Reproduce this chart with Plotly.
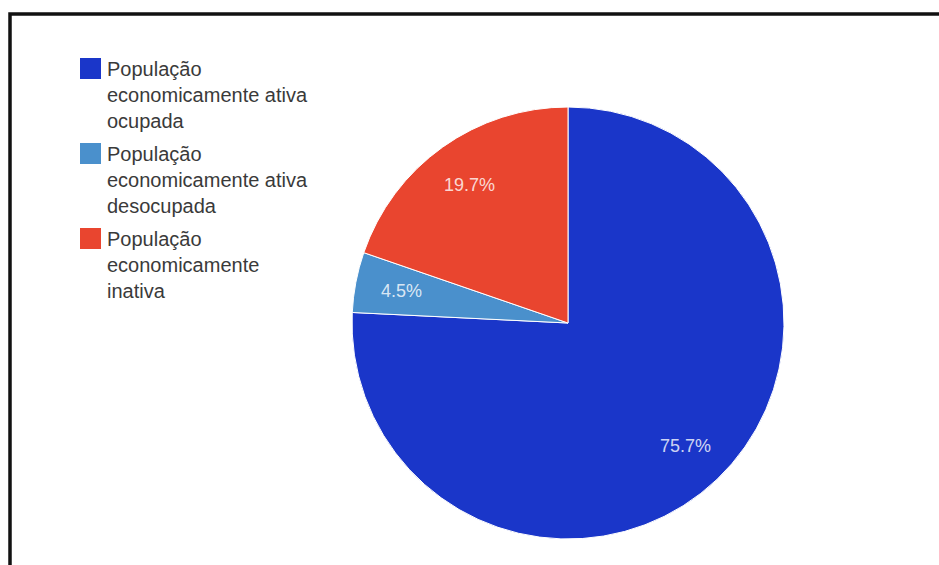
import math
import plotly.graph_objects as go

# Categories, shares (%) and slice colours
categories = [
    "População economicamente ativa ocupada",
    "População economicamente ativa desocupada",
    "População economicamente inativa",
]
legend_lines = [
    ["População", "economicamente ativa", "ocupada"],
    ["População", "economicamente ativa", "desocupada"],
    ["População", "economicamente", "inativa"],
]
shares = [75.7, 4.5, 19.7]
colors = ["#1a36c9", "#4a90cc", "#e9452f"]

W, H = 939, 565
FONT = "Arial, Liberation Sans, sans-serif"

# Pie geometry in pixels
cx, cy, R = 568, 323, 216


def px(x):
    return x / W


def py(y):
    return 1 - y / H


fig = go.Figure(
    go.Pie(
        labels=categories,
        values=shares,
        marker=dict(colors=colors, line=dict(color="white", width=1)),
        sort=False,
        direction="clockwise",
        rotation=0,
        textinfo="none",
        hoverinfo="label+percent",
        showlegend=False,
        domain=dict(x=[px(cx - R), px(cx + R)], y=[py(cy + R), py(cy - R)]),
    )
)

annotations = []
shapes = []

# Percentage labels placed along each slice's bisector
total = sum(shares)
cum = 0.0
for v in shares:
    mid = (cum + v / 2) / total * 2 * math.pi
    cum += v
    r = 0.787 * R
    lx = cx + r * math.sin(mid)
    ly = cy - r * math.cos(mid)
    annotations.append(
        dict(
            x=px(lx), y=py(ly), xref="paper", yref="paper",
            text=f"{v:.1f}%", showarrow=False,
            xanchor="center", yanchor="middle",
            font=dict(family=FONT, size=18, color="rgba(255,255,255,0.8)"),
        )
    )

# Legend: coloured squares with wrapped labels
item_tops = [58, 143, 228]
for lines, col, top in zip(legend_lines, colors, item_tops):
    shapes.append(
        dict(
            type="rect", xref="paper", yref="paper",
            x0=px(80), x1=px(101), y0=py(top), y1=py(top + 21),
            fillcolor=col, line=dict(width=0),
        )
    )
    annotations.append(
        dict(
            x=px(105), y=py(top - 2), xref="paper", yref="paper",
            text="<br>".join(lines), showarrow=False,
            xanchor="left", yanchor="top", align="left",
            font=dict(family=FONT, size=20, color="#3a3a3a"),
        )
    )

# Frame lines along the top and left edges
shapes.append(
    dict(
        type="path", xref="paper", yref="paper",
        path=f"M {px(10)} {py(H + 10)} L {px(10)} {py(14)} L {px(W + 10)} {py(14)}",
        line=dict(color="#111111", width=3.5),
    )
)

fig.update_layout(
    width=W, height=H,
    margin=dict(l=0, r=0, t=0, b=0),
    paper_bgcolor="white",
    plot_bgcolor="white",
    annotations=annotations,
    shapes=shapes,
)

fig.write_html("out.html")
